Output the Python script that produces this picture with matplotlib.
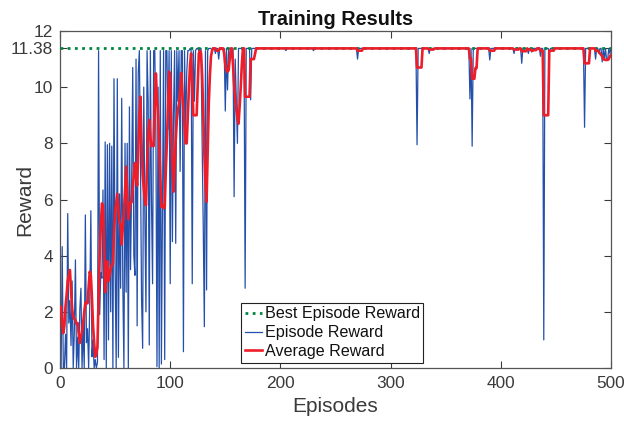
import matplotlib
matplotlib.use("Agg")
import matplotlib.pyplot as plt
import numpy as np

plt.rcParams['font.family'] = ['Liberation Sans', 'DejaVu Sans']

best_reward = 11.38

episode_reward = [
    0.0, 4.32, 0.0, 0.0, 1.2, 0.0, 5.50, 1.6, 2.4, 0.8,
    3.1, 0.0, 1.3, 3.85, 0.0, 1.1, 0.0, 2.1, 2.84, 0.0,
    1.5, 0.0, 5.45, 0.9, 1.4, 0.0, 2.3, 5.60, 0.4, 1.0,
    0.0, 0.3, 0.0, 0.2, 11.30, 1.9, 3.4, 3.2, 6.34, 0.3,
    8.05, 0.0, 7.95, 1.0, 8.0, 2.0, 7.9, 0.0, 10.3, 3.5,
    0.0, 10.3, 0.38, 6.2, 2.84, 9.6, 3.0, 0.0, 8.0, 2.7,
    8.0, 0.0, 9.3, 3.5, 6.5, 10.7, 4.0, 3.3, 11.0, 1.5,
    10.5, 11.3, 7.5, 2.5, 0.7, 10.0, 5.45, 2.0, 11.3, 9.5,
    0.82, 11.3, 6.0, 3.0, 11.3, 11.3, 8.5, 0.05, 10.0, 0.0,
    11.3, 0.14, 6.0, 11.3, 0.3, 11.3, 11.3, 8.5, 11.3, 3.0,
    11.3, 4.5, 9.0, 11.3, 4.44, 11.3, 9.5, 11.3, 7.0, 11.3,
    11.3, 0.58, 11.3, 8.5, 10.5, 11.3, 11.3, 11.38, 11.3, 3.0,
    11.3, 9.5, 11.3, 11.38, 11.38, 11.3, 11.38, 11.38, 8.0, 5.0,
    1.47, 11.3, 2.78, 11.3, 11.38, 11.38, 11.38, 11.3, 11.38, 11.38,
    11.2, 11.38, 11.38, 11.0, 11.38, 11.38, 11.38, 11.38, 11.38, 9.15,
    11.38, 9.9, 11.38, 11.38, 11.38, 11.38, 11.38, 6.1, 11.0, 9.5,
    8.0, 11.38, 11.38, 11.38, 11.38, 11.38, 11.38, 2.84, 11.38, 11.38,
    11.38, 11.38, 9.55, 11.38, 11.38, 11.38, 11.38, 11.38, 11.38, 11.38,
    # 181-260
    11.38, 11.38, 11.38, 11.38, 11.38, 11.38, 11.38, 11.38, 11.38, 11.38,
    11.38, 11.38, 11.38, 11.38, 11.38, 11.38, 11.38, 11.38, 11.38, 11.38,
    11.38, 11.38, 11.38, 11.38, 11.3, 11.38, 11.38, 11.38, 11.38, 11.38,
    11.38, 11.38, 11.38, 11.38, 11.38, 11.38, 11.38, 11.38, 11.38, 11.38,
    11.38, 11.38, 11.38, 11.38, 11.38, 11.38, 11.38, 11.38, 11.38, 11.3,
    11.38, 11.38, 11.38, 11.38, 11.38, 11.38, 11.38, 11.38, 11.38, 11.38,
    11.38, 11.38, 11.38, 11.38, 11.38, 11.38, 11.38, 11.38, 11.38, 11.38,
    11.38, 11.38, 11.38, 11.38, 11.38, 11.38, 11.38, 11.38, 11.38, 11.38,
    # 261-340
    11.38, 11.38, 11.38, 11.38, 11.38, 11.38, 11.38, 11.38, 11.38, 11.0,
    11.38, 11.38, 11.38, 11.38, 11.38, 11.38, 11.38, 11.38, 11.38, 11.38,
    11.38, 11.38, 11.38, 11.38, 11.38, 11.38, 11.38, 11.38, 11.38, 11.38,
    11.38, 11.38, 11.38, 11.38, 11.38, 11.38, 11.38, 11.38, 11.38, 11.38,
    11.38, 11.38, 11.38, 11.38, 11.38, 11.38, 11.38, 11.38, 11.38, 11.38,
    11.38, 11.38, 11.38, 11.38, 11.38, 11.38, 11.38, 11.38, 11.38, 11.38,
    11.38, 11.38, 11.38, 7.95, 11.38, 11.38, 11.38, 11.38, 11.38, 11.38,
    11.38, 11.38, 11.38, 11.38, 11.2, 11.38, 11.38, 11.38, 11.38, 11.38,
    # 341-420
    11.38, 11.38, 11.38, 11.38, 11.38, 11.38, 11.38, 11.38, 11.38, 11.38,
    11.38, 11.38, 11.38, 11.38, 11.38, 11.38, 11.38, 11.38, 11.38, 11.38,
    11.38, 11.38, 11.38, 11.38, 11.38, 11.38, 11.38, 11.38, 11.38, 11.38,
    11.38, 9.58, 11.38, 7.9, 11.38, 11.38, 11.38, 11.38, 11.38, 11.38,
    11.38, 11.38, 11.38, 11.38, 11.38, 11.38, 11.38, 11.38, 11.38, 10.97,
    11.38, 11.38, 11.38, 11.38, 11.38, 11.38, 11.38, 11.38, 11.38, 11.38,
    11.38, 11.38, 11.38, 11.38, 11.38, 11.38, 11.38, 11.38, 11.38, 11.38,
    11.38, 11.2, 11.38, 11.38, 11.38, 11.38, 11.38, 11.38, 10.85, 11.38,
    # 421-500
    11.38, 11.38, 11.38, 11.38, 11.2, 11.38, 11.38, 11.25, 11.38, 11.38,
    11.38, 11.38, 11.38, 11.38, 11.38, 11.1, 11.38, 11.38, 1.0, 11.38,
    11.38, 11.38, 11.38, 11.2, 11.38, 11.38, 11.38, 11.38, 11.38, 11.38,
    11.38, 11.38, 11.38, 11.38, 11.38, 11.38, 11.38, 11.38, 11.38, 11.38,
    11.38, 11.38, 11.38, 11.38, 11.38, 11.38, 11.38, 11.38, 11.38, 11.38,
    11.38, 11.38, 11.38, 11.38, 11.38, 8.57, 11.38, 11.38, 11.38, 11.38,
    11.38, 11.38, 11.38, 11.38, 11.38, 11.0, 11.38, 11.38, 11.2, 11.38,
    11.38, 10.9, 11.38, 11.0, 11.38, 10.95, 11.0, 11.38, 11.2, 11.38,
]

average_reward = [
    2.18, 1.6, 1.24, 1.5, 2.2, 2.6, 3.1, 3.3, 3.49, 2.8,
    2.1, 1.83, 1.75, 1.7, 1.57, 1.6, 1.2, 0.89, 1.1, 1.31,
    1.6, 2.0, 2.31, 2.35, 2.3, 2.9, 3.43, 3.3, 2.5, 1.5,
    0.9, 0.4, 0.5, 0.76, 2.5, 4.0, 5.0, 5.86, 5.8, 4.5,
    2.7, 3.2, 3.8, 3.1, 3.3, 3.5, 3.67, 3.7, 4.8, 5.57,
    5.9, 6.2, 5.6, 5.2, 5.1, 4.4, 5.0, 5.5, 6.3, 7.17,
    6.2, 5.3, 5.6, 5.9, 5.9, 6.4, 6.9, 7.3, 6.8, 6.5,
    7.8, 9.0, 9.66, 8.0, 6.9, 6.4, 6.0, 5.8, 7.2, 8.4,
    8.83, 8.2, 7.9, 8.0, 7.9, 9.4, 10.49, 9.6, 9.0, 8.0,
    6.8, 5.74, 5.8, 5.7, 5.7, 7.0, 8.06, 9.3, 10.55, 10.4,
    8.6, 7.3, 6.28, 7.2, 8.1, 8.8, 9.2, 9.4, 9.9, 10.5,
    9.8, 9.2, 8.6, 8.0, 8.0, 9.0, 10.0, 10.8, 11.2, 10.1,
    9.0, 9.0, 9.0, 9.0, 10.1, 11.2, 11.3, 11.2, 10.4, 9.0,
    7.6, 6.5, 5.92, 7.7, 9.4, 10.4, 11.1, 11.3, 11.38, 11.38,
    11.38, 11.3, 11.3, 11.3, 11.38, 11.38, 11.38, 11.38, 11.2, 10.8,
    10.6, 10.55, 10.6, 11.0, 11.38, 11.38, 10.8, 10.1, 9.6, 9.2,
    8.9, 8.7, 9.3, 10.0, 10.8, 11.38, 11.38, 9.66, 9.66, 9.66,
    9.66, 9.66, 11.0, 11.0, 11.0, 11.0, 11.2, 11.38, 11.38, 11.38,
    # 181-260
    11.38, 11.38, 11.38, 11.38, 11.38, 11.38, 11.38, 11.38, 11.38, 11.38,
    11.38, 11.38, 11.38, 11.38, 11.38, 11.38, 11.38, 11.38, 11.38, 11.38,
    11.38, 11.38, 11.38, 11.38, 11.38, 11.38, 11.38, 11.38, 11.38, 11.38,
    11.38, 11.38, 11.38, 11.38, 11.38, 11.38, 11.38, 11.38, 11.38, 11.38,
    11.38, 11.38, 11.38, 11.38, 11.38, 11.38, 11.38, 11.38, 11.38, 11.38,
    11.38, 11.38, 11.38, 11.38, 11.38, 11.38, 11.38, 11.38, 11.38, 11.38,
    11.38, 11.38, 11.38, 11.38, 11.38, 11.38, 11.38, 11.38, 11.38, 11.38,
    11.38, 11.38, 11.38, 11.38, 11.38, 11.38, 11.38, 11.38, 11.38, 11.38,
    # 261-340
    11.38, 11.38, 11.38, 11.38, 11.38, 11.38, 11.38, 11.38, 11.38, 11.3,
    11.3, 11.3, 11.3, 11.3, 11.38, 11.38, 11.38, 11.38, 11.38, 11.38,
    11.38, 11.38, 11.38, 11.38, 11.38, 11.38, 11.38, 11.38, 11.38, 11.38,
    11.38, 11.38, 11.38, 11.38, 11.38, 11.38, 11.38, 11.38, 11.38, 11.38,
    11.38, 11.38, 11.38, 11.38, 11.38, 11.38, 11.38, 11.38, 11.38, 11.38,
    11.38, 11.38, 11.38, 11.38, 11.38, 11.38, 11.38, 11.38, 11.38, 11.38,
    11.38, 11.38, 11.38, 10.7, 10.7, 10.7, 10.7, 10.7, 11.38, 11.38,
    11.38, 11.38, 11.38, 11.38, 11.34, 11.34, 11.34, 11.34, 11.34, 11.38,
    # 341-420
    11.38, 11.38, 11.38, 11.38, 11.38, 11.38, 11.38, 11.38, 11.38, 11.38,
    11.38, 11.38, 11.38, 11.38, 11.38, 11.38, 11.38, 11.38, 11.38, 11.38,
    11.38, 11.38, 11.38, 11.38, 11.38, 11.38, 11.38, 11.38, 11.38, 11.38,
    11.38, 11.02, 11.02, 10.3, 10.3, 10.3, 10.68, 10.68, 11.38, 11.38,
    11.38, 11.38, 11.38, 11.38, 11.38, 11.38, 11.38, 11.38, 11.38, 11.3,
    11.3, 11.3, 11.3, 11.3, 11.38, 11.38, 11.38, 11.38, 11.38, 11.38,
    11.38, 11.38, 11.38, 11.38, 11.38, 11.38, 11.38, 11.38, 11.38, 11.38,
    11.38, 11.34, 11.34, 11.34, 11.34, 11.34, 11.38, 11.38, 11.28, 11.28,
    # 421-500
    11.28, 11.28, 11.28, 11.38, 11.34, 11.34, 11.34, 11.3, 11.3, 11.32,
    11.32, 11.32, 11.38, 11.38, 11.38, 11.3, 11.3, 11.3, 9.0, 9.0,
    9.0, 9.0, 9.0, 11.3, 11.3, 11.3, 11.3, 11.3, 11.38, 11.38,
    11.38, 11.38, 11.38, 11.38, 11.38, 11.38, 11.38, 11.38, 11.38, 11.38,
    11.38, 11.38, 11.38, 11.38, 11.38, 11.38, 11.38, 11.38, 11.38, 11.38,
    11.38, 11.38, 11.38, 11.38, 11.38, 10.85, 10.85, 10.85, 10.85, 10.85,
    11.38, 11.38, 11.38, 11.38, 11.38, 11.3, 11.3, 11.3, 11.25, 11.2,
    11.15, 11.1, 11.0, 10.98, 10.97, 10.97, 10.97, 11.0, 11.1, 11.15,
]

episodes = np.arange(1, len(episode_reward) + 1)

x_ticks = [0, 100, 200, 300, 400, 500]
y_ticks = [0, 2, 4, 6, 8, 10, best_reward, 12]
y_tick_labels = ['0', '2', '4', '6', '8', '10', '11.38', '12']

text_col = '#3a3a3a'
fig = plt.figure(figsize=(6.24, 4.21), dpi=100)
ax = fig.add_axes([60/624, 1 - 368/421, (611-60)/624, (368-31)/421])

best_line = ax.axhline(best_reward, color='#00873f', linestyle=(0, (1, 1.6)), lw=2.0,
                       label='Best Episode Reward', zorder=3)
ep_line, = ax.plot(episodes, episode_reward, color='#2450aa', lw=0.9,
                   label='Episode Reward', zorder=2)
avg_line, = ax.plot(episodes, average_reward, color='#ee1d2a', lw=1.9,
                    label='Average Reward', zorder=4)

ax.set_xlim(0, 500)
ax.set_ylim(0, 12)
ax.set_xticks(x_ticks)
ax.set_yticks(y_ticks)
ax.set_yticklabels(y_tick_labels)
ax.tick_params(direction='in', length=5, width=0.8, top=True, right=True,
               labelsize=12.4, colors=text_col)
ax.tick_params(axis='x', pad=6)
ax.tick_params(axis='y', pad=5)
for s in ax.spines.values():
    s.set_color('#555555')
    s.set_linewidth(0.9)

ax.set_title('Training Results', fontsize=14.3, fontweight='bold', color='#111111', pad=4)
ax.set_xlabel('Episodes', fontsize=15, color=text_col)
ax.xaxis.set_label_coords(0.5, -0.085)
ax.xaxis.label.set_verticalalignment('top')
ax.set_ylabel('Reward', fontsize=15, color=text_col)
ax.yaxis.set_label_coords(-0.047, 0.5)

leg = ax.legend(handles=[best_line, ep_line, avg_line], loc='lower center',
                bbox_to_anchor=(0.494, 0.016), fontsize=11.6, frameon=True,
                fancybox=False, edgecolor='#222222', framealpha=1,
                handlelength=1.1, handletextpad=0.15, labelspacing=0.24,
                borderpad=0.22, borderaxespad=0)
leg.get_frame().set_linewidth(0.8)
for t in leg.get_texts():
    t.set_color('#111111')

fig.savefig('out.png', dpi=100)
